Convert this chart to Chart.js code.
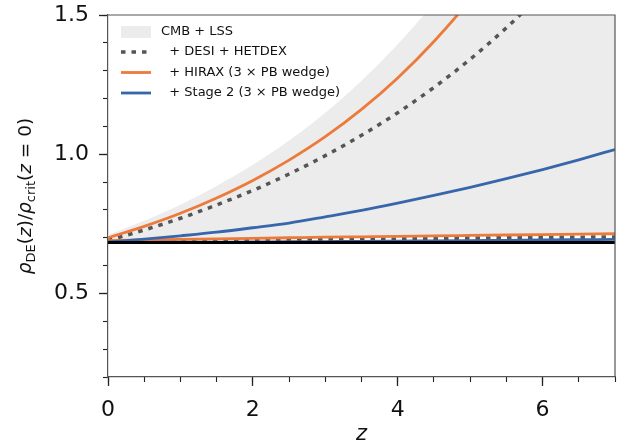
<!DOCTYPE html>
<html>
<head>
<meta charset="utf-8">
<script src="https://cdn.jsdelivr.net/npm/chart.js@4/dist/chart.umd.min.js"></script>
<style>
  html, body { margin: 0; padding: 0; background: #ffffff; }
  #wrap { width: 625px; height: 445px; }
</style>
</head>
<body>
<div id="wrap"><canvas id="c" width="625" height="445"></canvas></div>
<script>
// Redshift grid shared by every curve
const redshift = [0, 0.5, 1, 1.5, 2, 2.5, 3, 3.5, 4, 4.5, 5, 5.5, 6, 6.5, 7];

// CMB + LSS allowed region (upper and lower edge)
const cmbLssUpper = [0.710, 0.761, 0.819, 0.886, 0.962, 1.049, 1.149, 1.264, 1.395, 1.544, 1.716, 1.912, 2.136, 2.390, 2.690];
const cmbLssLower = [0.690, 0.692, 0.694, 0.696, 0.698, 0.700, 0.702, 0.7035, 0.705, 0.707, 0.7085, 0.710, 0.7115, 0.713, 0.7145];

// + DESI + HETDEX
const desiUpper = [0.690, 0.728, 0.770, 0.818, 0.870, 0.929, 0.995, 1.068, 1.149, 1.240, 1.341, 1.454, 1.579, null, null];
const desiLower = [0.686, 0.687, 0.688, 0.690, 0.691, 0.692, 0.694, 0.695, 0.696, 0.698, 0.699, 0.700, 0.701, 0.702, 0.703];

// + HIRAX (3 x PB wedge)
const hiraxUpper = [0.700, 0.741, 0.788, 0.843, 0.906, 0.979, 1.063, 1.161, 1.274, 1.405, 1.555, 1.730, null, null, null];
const hiraxLower = [0.690, 0.692, 0.694, 0.696, 0.698, 0.700, 0.702, 0.7035, 0.705, 0.707, 0.7085, 0.710, 0.7115, 0.713, 0.7145];

// + Stage 2 (3 x PB wedge)
const stage2Upper = [0.685, 0.695, 0.707, 0.720, 0.736, 0.753, 0.775, 0.798, 0.824, 0.852, 0.881, 0.912, 0.945, 0.980, 1.017];
const stage2Lower = [0.683, 0.6835, 0.684, 0.6845, 0.685, 0.686, 0.6865, 0.687, 0.688, 0.689, 0.690, 0.691, 0.692, 0.693, 0.694];

// Fiducial cosmological constant
const lcdm = [0.683, 0.683, 0.683, 0.683, 0.683, 0.683, 0.683, 0.683, 0.683, 0.683, 0.683, 0.683, 0.683, 0.683, 0.683];

// Legend labels
const legendLabels = ['CMB + LSS', '  + DESI + HETDEX', '  + HIRAX (3 \u00d7 PB wedge)', '  + Stage 2 (3 \u00d7 PB wedge)'];

// Axis ranges and tick steps
const xRange = [0, 7];
const yRange = [0.2, 1.5];
const xMajorStep = 2, xMinorStep = 0.5;
const yMajorStep = 0.5, yMinorStep = 0.1;

const FONT = "'DejaVu Sans', 'Liberation Sans', sans-serif";
const ORANGE = '#ec7a3a';
const BLUE = '#3866aa';
const GREY_DOT = '#555555';
const BAND = '#ececec';
const DOTS = [4.5, 6];

function toPoints(values) {
  const pts = [];
  redshift.forEach((z, i) => { if (values[i] !== null) pts.push({ x: z, y: values[i] }); });
  return pts;
}

function line(values, color, width, dash) {
  return {
    data: toPoints(values),
    borderColor: color,
    borderWidth: width,
    borderDash: dash || [],
    borderCapStyle: 'butt',
    pointRadius: 0,
    fill: false,
    cubicInterpolationMode: 'monotone'
  };
}

// Datasets listed top-most first (Chart.js paints index 0 last)
const datasets = [
  line(lcdm, '#000000', 3),
  line(stage2Upper, BLUE, 2.8),
  line(stage2Lower, BLUE, 2.8),
  line(hiraxUpper, ORANGE, 2.8),
  line(hiraxLower, ORANGE, 2.8),
  line(desiUpper, GREY_DOT, 3.5, DOTS),
  line(desiLower, GREY_DOT, 3.5, DOTS),
  Object.assign(line(cmbLssUpper, 'rgba(0,0,0,0)', 0), { fill: '+1', backgroundColor: BAND }),
  line(cmbLssLower, 'rgba(0,0,0,0)', 0)
];

// Legend drawn inside the plotting area, top-left
const legendPlugin = {
  id: 'innerLegend',
  afterDatasetsDraw(chart) {
    const ctx = chart.ctx;
    ctx.save();
    const hx0 = 121, hx1 = 151, tx = 161;
    const rows = [32, 52, 72.5, 93];
    ctx.fillStyle = BAND;
    ctx.fillRect(hx0, rows[0] - 6, hx1 - hx0, 12);
    ctx.strokeStyle = GREY_DOT; ctx.lineWidth = 3.5; ctx.lineCap = 'butt';
    ctx.setLineDash(DOTS);
    ctx.beginPath(); ctx.moveTo(hx0, rows[1]); ctx.lineTo(hx1, rows[1]); ctx.stroke();
    ctx.setLineDash([]);
    ctx.strokeStyle = ORANGE; ctx.lineWidth = 2.8;
    ctx.beginPath(); ctx.moveTo(hx0, rows[2]); ctx.lineTo(hx1, rows[2]); ctx.stroke();
    ctx.strokeStyle = BLUE;
    ctx.beginPath(); ctx.moveTo(hx0, rows[3]); ctx.lineTo(hx1, rows[3]); ctx.stroke();
    ctx.fillStyle = '#111111';
    ctx.font = '13px ' + FONT;
    ctx.textBaseline = 'middle';
    ctx.textAlign = 'left';
    legendLabels.forEach((t, i) => ctx.fillText(t, tx, rows[i]));
    ctx.restore();
  }
};

// Frame and rotated math-style y-axis title
const framePlugin = {
  id: 'frameAndYTitle',
  afterDraw(chart) {
    const ctx = chart.ctx;
    const a = chart.chartArea;
    ctx.save();
    ctx.strokeStyle = '#555555';
    ctx.lineWidth = 1.2;
    ctx.beginPath();
    ctx.moveTo(a.left, a.top); ctx.lineTo(a.right, a.top); ctx.lineTo(a.right, a.bottom);
    ctx.stroke();

    const main = 18.5, sub = 13;
    const segs = [
      { t: '\u03c1', s: main, it: true, dy: 0 },
      { t: 'DE', s: sub, it: false, dy: 4 },
      { t: '(', s: main, it: false, dy: 0 },
      { t: 'z', s: main, it: true, dy: 0 },
      { t: ')/', s: main, it: false, dy: 0 },
      { t: '\u03c1', s: main, it: true, dy: 0 },
      { t: 'crit', s: sub, it: false, dy: 4 },
      { t: '(', s: main, it: false, dy: 0 },
      { t: 'z', s: main, it: true, dy: 0 },
      { t: ' = ', s: main, it: false, dy: 0 },
      { t: '0)', s: main, it: false, dy: 0 }
    ];
    const fontOf = g => (g.it ? 'italic ' : '') + g.s + 'px ' + FONT;
    let total = 0;
    segs.forEach(g => { ctx.font = fontOf(g); g.w = ctx.measureText(g.t).width; total += g.w; });
    ctx.translate(31, (a.top + a.bottom) / 2);
    ctx.rotate(-Math.PI / 2);
    ctx.fillStyle = '#111111';
    ctx.textBaseline = 'alphabetic';
    ctx.textAlign = 'left';
    let x = -total / 2;
    segs.forEach(g => { ctx.font = fontOf(g); ctx.fillText(g.t, x, g.dy); x += g.w; });
    ctx.restore();
  }
};

const tickFont = { family: FONT, size: 22 };

new Chart(document.getElementById('c'), {
  type: 'line',
  data: { datasets },
  options: {
    responsive: false,
    animation: false,
    events: [],
    layout: { padding: { left: 0, right: 10, top: 15, bottom: 0 } },
    plugins: {
      legend: { display: false },
      tooltip: { enabled: false },
      filler: { drawTime: 'beforeDatasetsDraw' }
    },
    scales: {
      x: {
        type: 'linear', position: 'bottom', min: xRange[0], max: xRange[1], weight: 1,
        ticks: { stepSize: xMajorStep, includeBounds: false, font: tickFont, color: '#111111', padding: 11, maxRotation: 0 },
        grid: { drawOnChartArea: false, tickLength: 9, tickColor: '#222222', tickWidth: 1.3 },
        border: { color: '#555555', width: 1.2 },
        title: { display: true, text: 'z', color: '#111111', font: { family: FONT, size: 21, style: 'italic', lineHeight: 1.0 }, padding: { top: 0, bottom: 0 } },
        afterFit(s) { s.height = 68; s.paddingLeft = 0; s.paddingRight = 0; }
      },
      xMinor: {
        type: 'linear', position: 'bottom', min: xRange[0], max: xRange[1], weight: 0,
        ticks: { stepSize: xMinorStep, includeBounds: false, display: false },
        grid: { drawOnChartArea: false, tickLength: 5, tickColor: '#222222', tickWidth: 1.1 },
        border: { display: false },
        afterFit(s) { s.height = 0; s.paddingLeft = 0; s.paddingRight = 0; }
      },
      y: {
        type: 'linear', position: 'left', min: yRange[0], max: yRange[1], weight: 1,
        ticks: { stepSize: yMajorStep, includeBounds: false, font: tickFont, color: '#111111', padding: 10,
                 callback: v => v.toFixed(1) },
        grid: { drawOnChartArea: false, tickLength: 9, tickColor: '#222222', tickWidth: 1.3 },
        border: { color: '#555555', width: 1.2 },
        afterFit(s) { s.width = 108; s.paddingTop = 0; s.paddingBottom = 0; }
      },
      yMinor: {
        type: 'linear', position: 'left', min: yRange[0], max: yRange[1], weight: 0,
        ticks: { stepSize: yMinorStep, includeBounds: false, display: false },
        grid: { drawOnChartArea: false, tickLength: 5, tickColor: '#222222', tickWidth: 1.1 },
        border: { display: false },
        afterFit(s) { s.width = 0; s.paddingTop = 0; s.paddingBottom = 0; }
      }
    }
  },
  plugins: [legendPlugin, framePlugin]
});
</script>
</body>
</html>
